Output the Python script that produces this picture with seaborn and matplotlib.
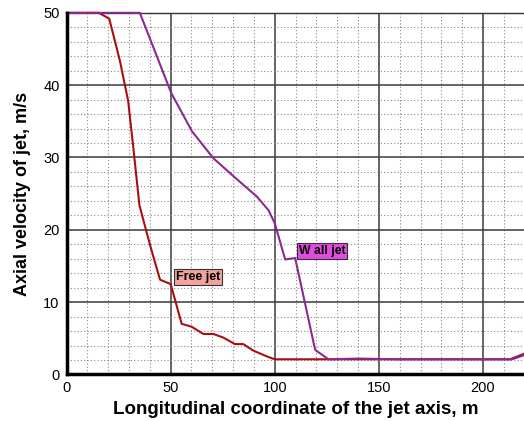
import numpy as np
import pandas as pd
import matplotlib
matplotlib.use("Agg")
import matplotlib.pyplot as plt
import seaborn as sns
from matplotlib.ticker import MultipleLocator

# Data
free_x = [0, 15.5, 20.5, 25.6, 29.6, 32.2, 35, 40, 44.9, 50, 55.3, 60.1, 65.7, 70.5, 75.3, 80.9, 84.9, 89.7, 96.2, 100, 130, 160, 190, 213, 220]
free_y = [50, 50, 49.2, 43.4, 37.8, 31.0, 23.4, 18, 13.1, 12.5, 7.0, 6.6, 5.6, 5.6, 5.1, 4.2, 4.2, 3.3, 2.5, 2.1, 2.1, 2.1, 2.1, 2.1, 2.9]
wall_x = [0, 35.2, 41.6, 50.3, 60.3, 70.5, 81, 91.4, 97, 100, 105, 109.8, 119.4, 125.8, 140, 160, 180, 200, 214, 220]
wall_y = [50, 50, 45.3, 38.9, 33.6, 29.9, 27.2, 24.6, 22.7, 20.9, 15.9, 16.1, 3.4, 2.1, 2.2, 2.1, 2.1, 2.1, 2.1, 2.7]
series_names = ["Free jet", "Wall jet"]
label_texts = ["Free jet", "W all jet"]

df = pd.concat([
    pd.DataFrame({"x": free_x, "y": free_y, "series": series_names[0]}),
    pd.DataFrame({"x": wall_x, "y": wall_y, "series": series_names[1]}),
])

sns.set_style("white")
plt.rcParams["font.family"] = ["Liberation Sans", "DejaVu Sans"]
plt.rcParams["text.color"] = "black"
plt.rcParams["axes.labelcolor"] = "black"
plt.rcParams["xtick.color"] = "black"
plt.rcParams["ytick.color"] = "black"

fig = plt.figure(figsize=(5.24, 4.21), dpi=100)
ax = fig.add_axes([0.127, 0.1105, 0.873, 0.859])

# grids
ax.xaxis.set_major_locator(MultipleLocator(50))
ax.xaxis.set_minor_locator(MultipleLocator(10))
ax.yaxis.set_major_locator(MultipleLocator(10))
ax.yaxis.set_minor_locator(MultipleLocator(2))
ax.grid(which="major", color="#3a3a3a", linewidth=1.1, linestyle="-", zorder=0)
ax.grid(which="minor", color="#888888", linewidth=0.8, linestyle=(0, (1, 2)), zorder=0)
ax.set_axisbelow(True)

palette = {"Free jet": "#a80f14", "Wall jet": "#8a2a90"}
sns.lineplot(data=df, x="x", y="y", hue="series", palette=palette, sort=False,
             estimator=None, linewidth=1.5, legend=False, ax=ax, zorder=3)
for ln in ax.lines:
    ln.set_clip_on(False)

ax.set_xlim(0, 219.7)
ax.set_ylim(0, 50)

for s in ["left", "bottom"]:
    ax.spines[s].set_linewidth(2.5)
    ax.spines[s].set_color("black")
    ax.spines[s].set_zorder(4)
ax.spines["right"].set_visible(False)
ax.spines["top"].set_linewidth(1.0)
ax.spines["top"].set_color("#333333")
ax.spines["top"].set_zorder(2)

ax.tick_params(which="major", direction="in", length=9, width=2.5, color="black",
               labelsize=10.5, pad=5, top=False, right=False, labelcolor="black")
ax.tick_params(which="minor", direction="in", length=5, width=1.5, color="black",
               top=False, right=False)

ax.set_xlabel("Longitudinal coordinate of the jet axis, m", fontsize=13.5, fontweight="bold", labelpad=4)
ax.set_ylabel("Axial velocity of jet, m/s", fontsize=13, fontweight="bold", labelpad=9)

ax.text(52.5, 13.5, label_texts[0], fontsize=9, fontweight="bold", va="center", ha="left",
        bbox=dict(boxstyle="square,pad=0.15", facecolor="#f2a3a0", edgecolor="#333333", linewidth=0.8),
        zorder=5)
ax.text(111.5, 17.1, label_texts[1], fontsize=8.8, fontweight="bold", va="center", ha="left",
        bbox=dict(boxstyle="square,pad=0.15", facecolor="#e04ce0", edgecolor="#333333", linewidth=0.8),
        zorder=5)

fig.savefig("out.png", dpi=100)
